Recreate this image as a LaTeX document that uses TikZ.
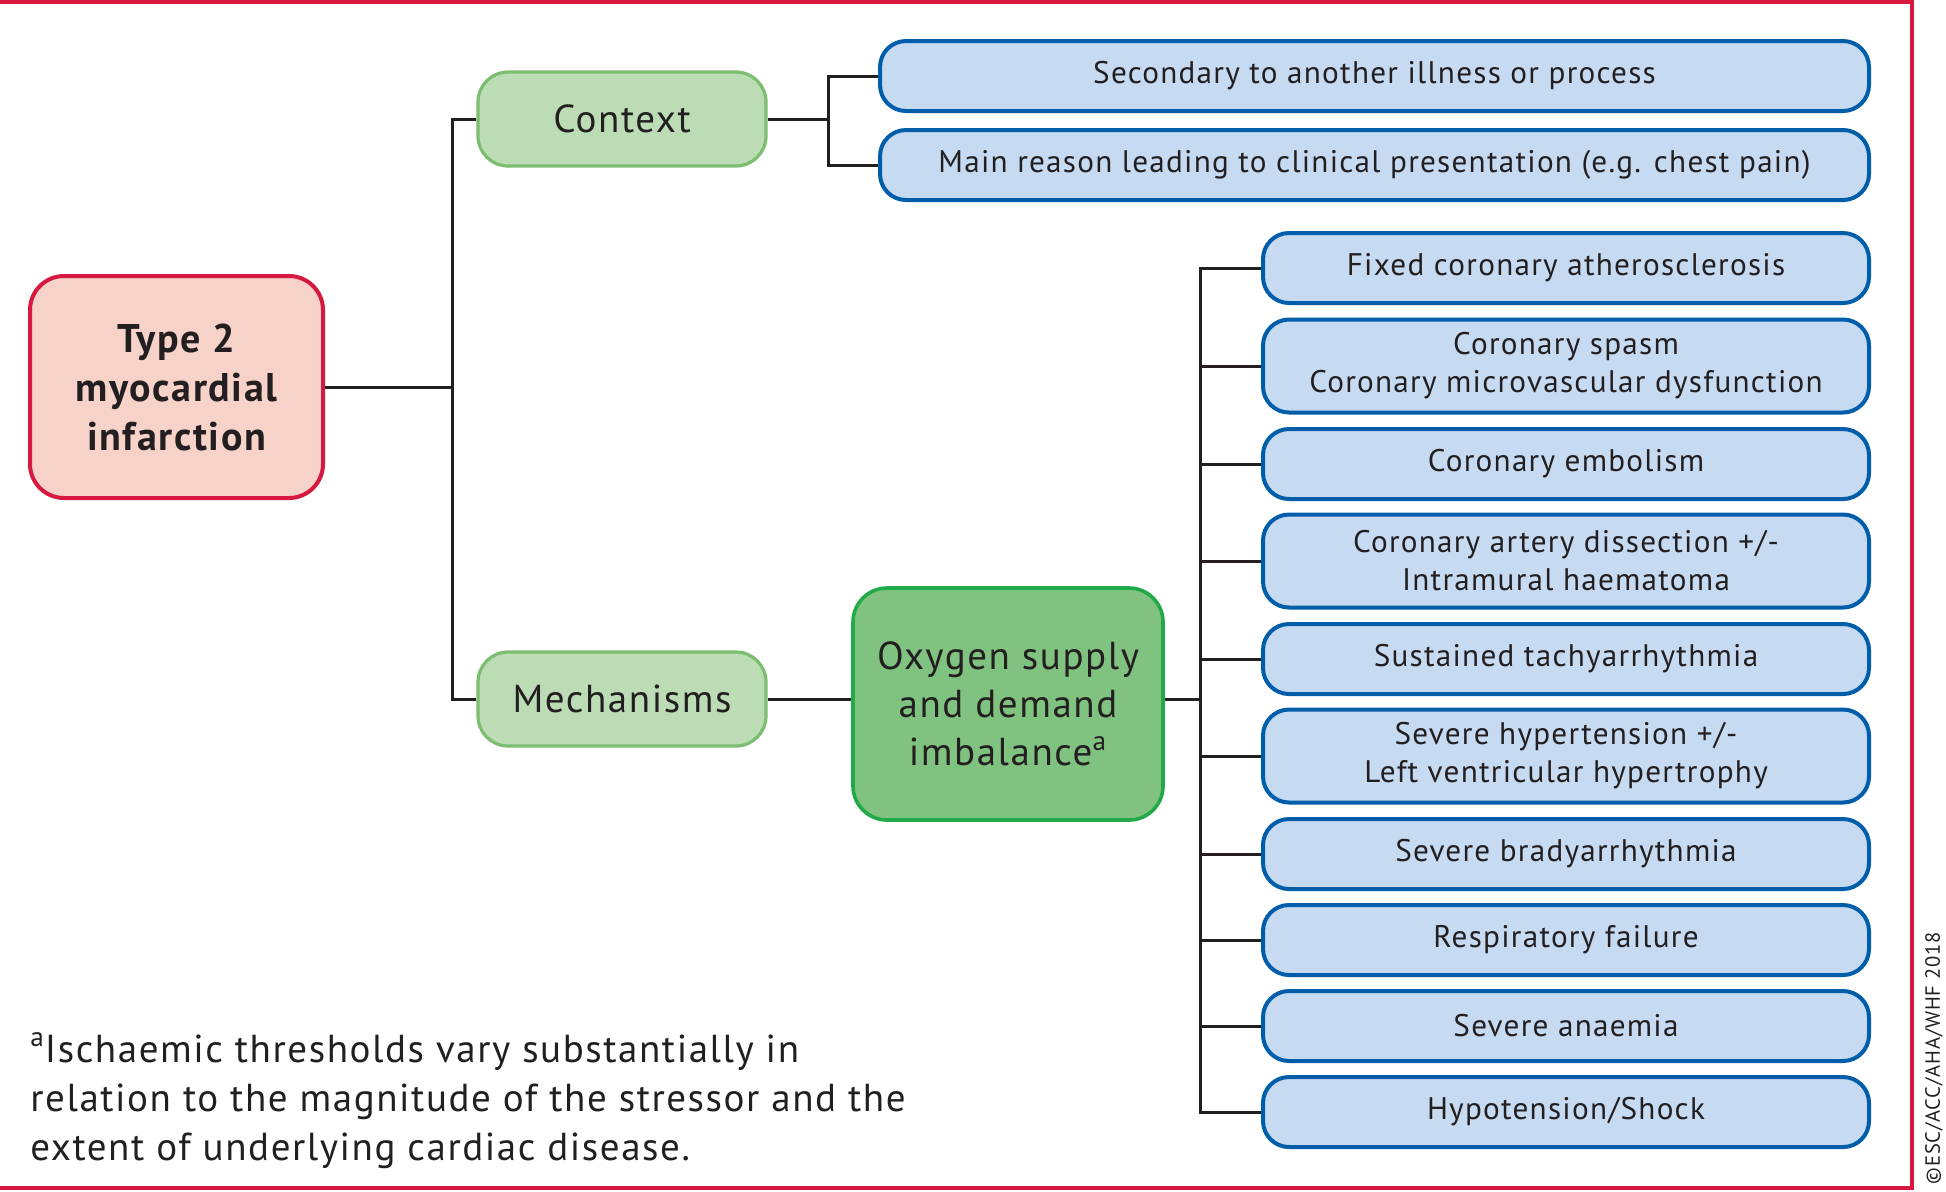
\documentclass[tikz,border=0pt]{standalone}
\usepackage{fontspec}
\setmainfont{PT Sans}[LetterSpace=4]
\definecolor{framered}{HTML}{D7193F}
\definecolor{tfill}{HTML}{F6D2C8}
\definecolor{lgfill}{HTML}{BBDCB4}
\definecolor{lgdraw}{HTML}{7CBE70}
\definecolor{dgfill}{HTML}{80C280}
\definecolor{dgdraw}{HTML}{22AA48}
\definecolor{bfill}{HTML}{C6DAF2}
\definecolor{bdraw}{HTML}{005DAA}
\definecolor{ink}{HTML}{231F20}
\begin{document}
\begin{tikzpicture}[x=0.5pt,y=-0.5pt,
  every node/.style={text=ink, inner sep=0pt, align=center},
  tbox/.style={draw=framered, fill=tfill, line width=2pt, rounded corners=17pt,
    minimum width=146.5pt, minimum height=111pt, font=\bfseries\fontsize{20}{24.5}\selectfont},
  lgbox/.style={draw=lgdraw, fill=lgfill, line width=1.6pt, rounded corners=15pt,
    minimum width=144pt, minimum height=47pt, font=\fontsize{19.5}{24}\selectfont},
  dgbox/.style={draw=dgdraw, fill=dgfill, line width=1.8pt, rounded corners=17pt,
    minimum width=155pt, minimum height=116pt, font=\fontsize{19.5}{24}\selectfont},
  bbox/.style={draw=bdraw, fill=bfill, line width=2pt, rounded corners=13pt,
    minimum height=35pt, font=\fontsize{15.6}{19}\selectfont},
  cbox/.style={bbox, minimum width=494.5pt},
  mbox/.style={bbox, minimum width=303pt},
  tall/.style={minimum height=46.5pt},
  conn/.style={draw=ink, line width=1.5pt}
]
\useasboundingbox (0,0) rectangle (1946,1191);
% frame
\draw[framered, line width=2pt] (0,2) -- (1912,2) -- (1912,1188) -- (0,1188);
\node[rotate=90, font=\fontsize{10.3}{12}\selectfont] (copy) at (1934,1058) {©ESC/ACC/AHA/WHF 2018};

% nodes
\node[tbox] (t2) at (176.5,387) {Type 2\\myocardial\\infarction};
\node[lgbox] (ctx) at (622,119) {Context};
\node[lgbox] (mech) at (622,699) {Mechanisms};
\node[dgbox] (oxy) at (1008,704) {Oxygen supply\\and demand\\imbalance\textsuperscript{a}};

\node[cbox] (c1) at (1374.5,76) {Secondary to another illness or process};
\node[cbox] (c2) at (1374.5,165) {Main reason leading to clinical presentation (e.g. chest pain)};

\node[mbox] (m1) at (1566,268) {Fixed coronary atherosclerosis};
\node[mbox,tall] (m2) at (1566,366) {Coronary spasm\\Coronary microvascular dysfunction};
\node[mbox] (m3) at (1566,464) {Coronary embolism};
\node[mbox,tall] (m4) at (1566,561) {Coronary artery dissection +/-\\Intramural haematoma};
\node[mbox] (m5) at (1566,659) {Sustained tachyarrhythmia};
\node[mbox,tall] (m6) at (1566,756) {Severe hypertension +/-\\Left ventricular hypertrophy};
\node[mbox] (m7) at (1566,854) {Severe bradyarrhythmia};
\node[mbox] (m8) at (1566,940) {Respiratory failure};
\node[mbox] (m9) at (1566,1026) {Severe anaemia};
\node[mbox] (m10) at (1566,1112) {Hypotension/Shock};

\node[anchor=base west, align=left, font=\fontsize{19.5}{24.5}\selectfont] (fn) at (30,1160)
  {\textsuperscript{a}Ischaemic thresholds vary substantially in\\relation to the magnitude of the stressor and the\\extent of underlying cardiac disease.};

% spines
\coordinate (sA) at (452,0);
\coordinate (sB) at (828,0);
\coordinate (sC) at (1200,0);

% connectors
\draw[conn] (t2.east) -- (t2.east -| sA);
\draw[conn] (ctx.west) -- (ctx.west -| sA) -- (mech.west -| sA) -- (mech.west);
\draw[conn] (ctx.east) -- (ctx.east -| sB);
\draw[conn] (c1.west) -- (c1.west -| sB) -- (c2.west -| sB) -- (c2.west);
\draw[conn] (mech.east) -- (mech.east -| oxy.west);
\draw[conn] (oxy.east |- mech.east) -- (mech.east -| sC);
\draw[conn] (m1.west) -- (m1.west -| sC) -- (m10.west -| sC) -- (m10.west);
\foreach \m in {m2,m3,m4,m5,m6,m7,m8,m9}
  \draw[conn] (\m.west) -- (\m.west -| sC);
\end{tikzpicture}
\end{document}
